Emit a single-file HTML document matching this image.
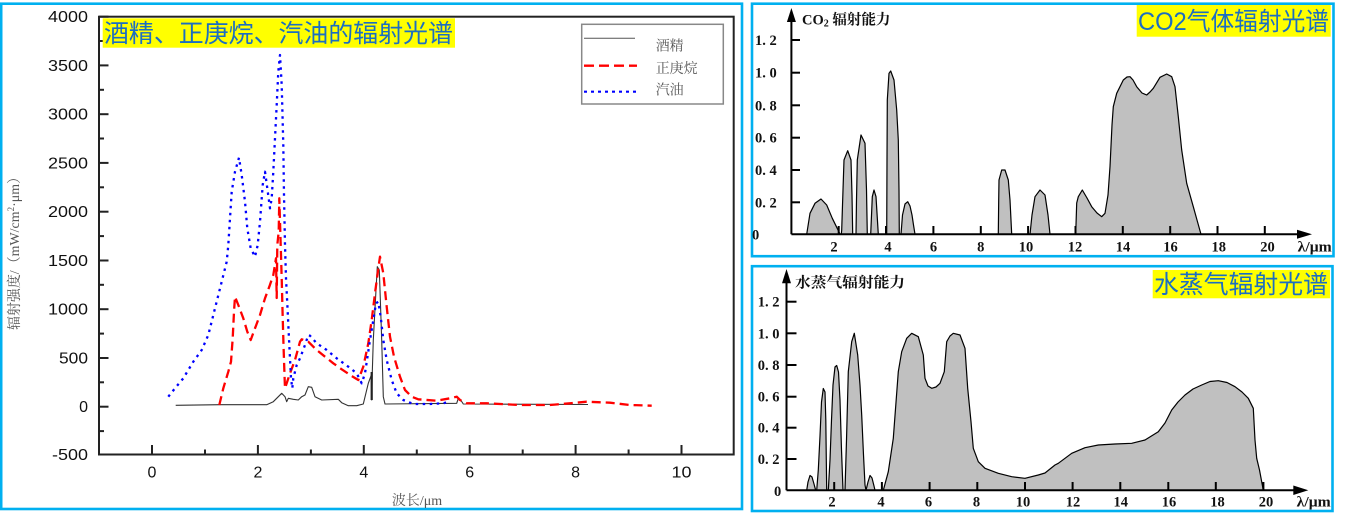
<!DOCTYPE html>
<html><head><meta charset="utf-8"><style>
html,body{margin:0;padding:0;background:#fff;}
svg{display:block;}
.tl{font-family:"Liberation Sans",sans-serif;font-size:16px;fill:#111;}
.cj{font-family:"Liberation Serif","Noto Serif CJK SC",serif;fill:#555;}
.rs{font-family:"Liberation Serif","Noto Serif CJK SC",serif;font-weight:bold;fill:#111;font-size:14.5px;}
.ttl{font-family:"Liberation Sans","Noto Sans CJK SC",sans-serif;fill:#1b6ec2;font-size:25px;}
</style></head><body>
<svg width="1351" height="513" viewBox="0 0 1351 513" xmlns="http://www.w3.org/2000/svg">
<rect width="1351" height="513" fill="#fff"/>
<!-- panel borders -->
<rect x="1.2" y="3.7" width="740.8" height="505.3" fill="none" stroke="#00b0f0" stroke-width="2.6"/>
<rect x="752" y="3.7" width="581.5" height="252.5" fill="none" stroke="#00b0f0" stroke-width="2.6"/>
<rect x="752" y="266.2" width="580.5" height="244.8" fill="none" stroke="#00b0f0" stroke-width="2.6"/>

<!-- ============ LEFT CHART ============ -->
<rect x="99" y="16.7" width="634.7" height="437.8" fill="none" stroke="#222" stroke-width="2"/>
<g stroke="#222" stroke-width="2">
<!-- y major ticks -->
<line x1="99" y1="16.7" x2="108.5" y2="16.7"/><line x1="99" y1="65.4" x2="108.5" y2="65.4"/>
<line x1="99" y1="114.2" x2="108.5" y2="114.2"/><line x1="99" y1="162.9" x2="108.5" y2="162.9"/>
<line x1="99" y1="211.7" x2="108.5" y2="211.7"/><line x1="99" y1="260.5" x2="108.5" y2="260.5"/>
<line x1="99" y1="309.2" x2="108.5" y2="309.2"/><line x1="99" y1="358" x2="108.5" y2="358"/>
<line x1="99" y1="406.7" x2="108.5" y2="406.7"/>
<!-- y minor -->
<line x1="99" y1="41" x2="104" y2="41"/><line x1="99" y1="89.8" x2="104" y2="89.8"/>
<line x1="99" y1="138.5" x2="104" y2="138.5"/><line x1="99" y1="187.3" x2="104" y2="187.3"/>
<line x1="99" y1="236.1" x2="104" y2="236.1"/><line x1="99" y1="284.8" x2="104" y2="284.8"/>
<line x1="99" y1="333.6" x2="104" y2="333.6"/><line x1="99" y1="382.3" x2="104" y2="382.3"/>
<line x1="99" y1="431.1" x2="104" y2="431.1"/>
<!-- x major -->
<line x1="152" y1="454.5" x2="152" y2="445"/><line x1="257.9" y1="454.5" x2="257.9" y2="445"/>
<line x1="363.8" y1="454.5" x2="363.8" y2="445"/><line x1="469.7" y1="454.5" x2="469.7" y2="445"/>
<line x1="575.6" y1="454.5" x2="575.6" y2="445"/><line x1="681.5" y1="454.5" x2="681.5" y2="445"/>
<!-- x minor -->
<line x1="205" y1="454.5" x2="205" y2="449.5"/><line x1="310.9" y1="454.5" x2="310.9" y2="449.5"/>
<line x1="416.8" y1="454.5" x2="416.8" y2="449.5"/><line x1="522.7" y1="454.5" x2="522.7" y2="449.5"/>
<line x1="628.6" y1="454.5" x2="628.6" y2="449.5"/>
</g>
<!-- y tick labels -->
<g class="tl" text-anchor="end">
<text x="88" y="22.2" textLength="40" lengthAdjust="spacingAndGlyphs">4000</text>
<text x="88" y="70.9" textLength="40" lengthAdjust="spacingAndGlyphs">3500</text>
<text x="88" y="119.7" textLength="40" lengthAdjust="spacingAndGlyphs">3000</text>
<text x="88" y="168.4" textLength="40" lengthAdjust="spacingAndGlyphs">2500</text>
<text x="88" y="217.2" textLength="40" lengthAdjust="spacingAndGlyphs">2000</text>
<text x="88" y="266" textLength="40" lengthAdjust="spacingAndGlyphs">1500</text>
<text x="88" y="314.7" textLength="40" lengthAdjust="spacingAndGlyphs">1000</text>
<text x="88" y="363.5" textLength="29" lengthAdjust="spacingAndGlyphs">500</text>
<text x="88" y="412.2">0</text>
<text x="88" y="460" textLength="36" lengthAdjust="spacingAndGlyphs">-500</text>
</g>
<g class="tl" text-anchor="middle">
<text x="152" y="477.7">0</text>
<text x="257.9" y="477.7">2</text>
<text x="363.8" y="477.7">4</text>
<text x="469.7" y="477.7">6</text>
<text x="575.6" y="477.7">8</text>
<text x="681.5" y="477.7" textLength="20" lengthAdjust="spacingAndGlyphs">10</text>
</g>
<text class="cj" x="0" y="0" font-size="14" text-anchor="middle" transform="translate(19,250) rotate(-90)" textLength="160" lengthAdjust="spacingAndGlyphs">辐射强度/（mW/cm<tspan font-size="9" dy="-5">2</tspan><tspan dy="5">·μm）</tspan></text>
<text class="cj" x="417" y="505" font-size="14" text-anchor="middle">波长/μm</text>

<!-- title -->
<rect x="102.7" y="18.3" width="352.3" height="29.4" fill="#ffff00"/>
<text class="ttl" x="104" y="42" textLength="349" lengthAdjust="spacingAndGlyphs">酒精、正庚烷、汽油的辐射光谱</text>

<!-- legend -->
<rect x="581.7" y="24.3" width="141.6" height="79.7" fill="#fff" stroke="#888" stroke-width="1.5"/>
<line x1="584" y1="38.3" x2="635" y2="38.3" stroke="#555" stroke-width="1"/>
<line x1="584" y1="65.7" x2="637" y2="65.7" stroke="#f00" stroke-width="2.3" stroke-dasharray="10,5"/>
<line x1="584" y1="91.7" x2="637" y2="91.7" stroke="#00f" stroke-width="2.2" stroke-dasharray="3,4"/>
<g class="cj" font-size="14" fill="#444">
<text x="655.7" y="50.5">酒精</text>
<text x="655.7" y="73">正庚烷</text>
<text x="655.7" y="94.5">汽油</text>
</g>

<!-- series -->
<polyline fill="none" stroke="#333" stroke-width="1.1" stroke-linejoin="round" points="175.7,405.3 220,404.7 266.7,404.7 273.3,401.7 281.7,393.3 285,396.7 286.7,401.7 288.3,398.3 293.3,399.3 298.3,400 301.7,396.7 305,395 308.3,386.7 311.7,387.3 315,396.7 321.7,400 338.3,399.3 341.7,402.7 348.3,405.7 356.7,405.7 363.3,404 368.3,383.3 371.3,375 371.7,400 372.2,375 373.3,340 376,290 377.3,266.7 379.3,270 380,290 381.7,340 383.3,396.7 385,404 456.7,403.3 458.3,398.3 460.7,400 463.3,404 588,404.5"/>
<line x1="371.7" y1="372" x2="371.7" y2="400" stroke="#222" stroke-width="2.2"/>
<polyline fill="none" stroke="#f00" stroke-width="2.3" stroke-dasharray="9,5" stroke-linejoin="round" points="219.3,405 223.3,388.3 228.3,371.7 231,361.7 232.7,338.3 234,311.7 235,296.7 238.3,305 243.3,318.3 247.3,331.7 250.7,340 255,328.3 260,315 265,298.3 269.3,286.7 273.3,275 276,258.3 276.7,298 277.3,245 278.7,231.7 279.3,198.3 280.7,245 281.7,278.3 282.5,310 283.5,345 284.5,375 285,388.3 290,373.3 295,360 300,341.7 301.7,339.3 308.3,341.7 316.7,350 325,356.7 333.3,363.3 341.7,369.3 351.7,376 358.3,380 363.3,366.7 368.3,343.3 371.7,320 375,293.3 378.3,268.3 380,256.7 383.3,273.3 386.7,306.7 390,336.7 394,356.7 400,376.7 405,390 411.7,396.7 418.3,399.3 436.7,400.7 450,398.3 456.7,396.7 460,400 466.7,403.3 486.7,403.3 520,405 550,405 570,403.3 586.7,401.7 610,402.7 630,405 651.7,405.7"/>
<polyline fill="none" stroke="#00f" stroke-width="2.3" stroke-dasharray="2.5,4.5" stroke-linejoin="round" points="168.3,396.7 175,388.3 183.3,378.3 193.3,361.7 201.7,350 208.3,335 215,308.3 221.7,281.7 226.7,261.7 228.3,245 230,218.3 231.7,191.7 235,171.7 239,157.7 241.7,175 245,201.7 247.3,228.3 250.7,248.3 255,256.7 257.7,245 260,221.7 262.7,185 265,171.7 267.3,188.3 270,208.3 271.7,198.3 273.3,171.7 275,138.3 276.7,105 278.3,71.7 280,55 281.7,85 283.3,145 284,195 285,245 286,278.3 287.7,311.7 289.3,345 291,378.3 292.3,388.3 293.3,378.3 296.7,365 300,358.3 305,345 308.3,335 310,335.7 316.7,343.3 326.7,350 336.7,358.3 348.3,366.7 356.7,373.3 361.7,383.3 365,373.3 370,340 373.3,320 376,303.3 378.3,301.7 380.7,316.7 383.3,340 386.7,360 391.7,380 396.7,393.3 403.3,400 413.3,404 430,404 443.3,403.3 448,402"/>

<!-- ============ CO2 CHART ============ -->
<g fill="#c0c0c0" stroke="#000" stroke-width="1.2" stroke-linejoin="round">
<polygon points="806.7,234.3 810,213.3 815,203.3 821,199 826.7,205 832.3,218.3 837.7,229.3 840,234.3"/>
<polygon points="841.3,234.3 841.7,230 843,190 844,160 847.7,150.7 851,160 852,195 852.7,234.3"/>
<polygon points="856,234.3 856.5,200 857.3,160 861,135 865,143.3 866.5,190 867.3,234.3"/>
<polygon points="870.7,234.3 872.3,196.7 874,190 876,196.7 878.3,234.3"/>
<polygon points="886.7,234.3 887,160 887.3,100 889,73.3 890.7,71 894,80 896.7,110 898.3,140 899,190 899.3,234.3"/>
<polygon points="901,234.3 902.5,215 905,204 907.7,201.7 910,206 912,215 913.5,225 915,234.3"/>
<polygon points="998.3,234.3 998.7,200 999,180 1001.7,170 1005,170 1008.3,180 1010,200 1011.7,234.3"/>
<polygon points="1030,234.3 1032,215 1035,196.7 1040,190 1045,195 1048,215 1050,234.3"/>
<polygon points="1075.7,234.3 1076.7,203 1078.3,196.7 1082.3,190 1087,198 1091.7,206.7 1097,213 1101.7,216.7 1105,213.3 1108,195 1110,166.7 1112,125 1113.3,106.7 1116.7,93.3 1123.3,80 1127,77 1130,76.7 1133,80 1136.7,86.7 1142,93 1146.7,95 1150,92 1153.3,88.3 1160,77.3 1166.7,74 1171.7,76.7 1175,86.7 1178.3,116.7 1181.7,150 1186.7,183.3 1193.3,206.7 1197,220 1201,234.3"/>
</g>
<g stroke="#000" stroke-width="2">
<line x1="791.4" y1="234.3" x2="791.4" y2="18"/>
<line x1="791.4" y1="234.3" x2="1300" y2="234.3"/>
<line x1="791.4" y1="40" x2="800" y2="40"/><line x1="791.4" y1="72.7" x2="800" y2="72.7"/>
<line x1="791.4" y1="105.3" x2="800" y2="105.3"/><line x1="791.4" y1="137.7" x2="800" y2="137.7"/>
<line x1="791.4" y1="170" x2="800" y2="170"/><line x1="791.4" y1="202.3" x2="800" y2="202.3"/>
<line x1="838.7" y1="234.3" x2="838.7" y2="226"/><line x1="886" y1="234.3" x2="886" y2="226"/>
<line x1="933.4" y1="234.3" x2="933.4" y2="226"/><line x1="980.8" y1="234.3" x2="980.8" y2="226"/>
<line x1="1028.1" y1="234.3" x2="1028.1" y2="226"/><line x1="1075.5" y1="234.3" x2="1075.5" y2="226"/>
<line x1="1122.8" y1="234.3" x2="1122.8" y2="226"/><line x1="1170.2" y1="234.3" x2="1170.2" y2="226"/>
<line x1="1217.5" y1="234.3" x2="1217.5" y2="226"/><line x1="1264.8" y1="234.3" x2="1264.8" y2="226"/>
</g>
<polygon points="791.4,8 786.9,22 795.9,22" fill="#000"/>
<polygon points="1312,234.3 1297,229.8 1297,238.8" fill="#000"/>
<g class="rs">
<text x="755" y="45">1. 2</text><text x="755" y="77.7">1. 0</text>
<text x="755" y="110.3">0. 8</text><text x="755" y="142.7">0. 6</text>
<text x="755" y="175">0. 4</text><text x="755" y="207.3">0. 2</text>
<text x="752" y="239.3">0</text>
</g>
<g class="rs" text-anchor="middle">
<text x="834" y="251.5">2</text><text x="888" y="251.5">4</text><text x="933.5" y="251.5">6</text>
<text x="980.8" y="251.5">8</text><text x="1026" y="251.5">10</text><text x="1075" y="251.5">12</text>
<text x="1123" y="251.5">14</text><text x="1170.5" y="251.5">16</text><text x="1218.7" y="251.5">18</text>
<text x="1267.5" y="251.5">20</text>
</g>
<text class="rs" x="1297.7" y="251.5" textLength="34" lengthAdjust="spacingAndGlyphs">λ/μm</text>
<text class="rs" x="802" y="24.5" font-size="15.5">CO<tspan font-size="10" dy="2">2</tspan><tspan dy="-2"> 辐射能力</tspan></text>
<rect x="1136.7" y="5" width="194" height="31.7" fill="#ffff00"/>
<text class="ttl" x="1138" y="30" font-size="24" textLength="191" lengthAdjust="spacingAndGlyphs">CO2气体辐射光谱</text>

<!-- ============ H2O CHART ============ -->
<g fill="#c0c0c0" stroke="#000" stroke-width="1.2" stroke-linejoin="round">
<polygon points="806.7,490.3 808,482 810,475.5 812,477 814,484 815.7,490.3"/>
<polygon points="816.7,490.3 818.3,470 820,436 821.5,402 823.3,388.5 825,392 825.8,420 826.3,460 826.7,490.3"/>
<polygon points="828.3,490.3 830,460 831.5,420 833,385 835,367 836.7,365.5 838.5,372 840,400 841.5,450 843,490.3"/>
<polygon points="845,490.3 846.5,440 848.3,371.7 851.7,341.7 854.3,333.3 857.7,355 860,385 861.7,415 863.5,455 865,485 866,490.3"/>
<polygon points="866,490.3 868,482 870,475.5 872,478 874,486 875,490.3"/>
<polygon points="883.3,490.3 888.3,471.7 893.3,438.3 898.3,371.7 901.7,351.7 906.7,338.3 911.7,333.3 918.3,336.7 923.3,355 925,378.3 928,386 931.7,388.3 936,387 940,383.3 944.3,371.7 946.7,341.7 950,336 953.3,333.3 960,335 965,348.3 967.7,388.3 971,421.7 973.3,448.3 978.3,461.7 985,468.3 998.3,473.3 1011.7,476.7 1025,478.3 1038.3,475 1045,473 1055,465 1058.3,463.3 1071.7,453.3 1085,447.7 1098.3,445 1115,444 1131.7,443.3 1145,440 1158.3,431.7 1165,423 1171.7,410 1178,402 1185,395 1193,389 1201.7,385 1210,381.5 1218.3,380.7 1227,382.5 1235,386.7 1242,392 1248.3,398.3 1253.3,408.3 1255,440 1256.7,458.3 1259.5,470 1263.3,490.3"/>
</g>
<g stroke="#000" stroke-width="2">
<line x1="786.5" y1="490.3" x2="786.5" y2="280"/>
<line x1="786.5" y1="490.3" x2="1296" y2="490.3"/>
<line x1="786.5" y1="301.7" x2="796.5" y2="301.7"/><line x1="786.5" y1="333.3" x2="796.5" y2="333.3"/>
<line x1="786.5" y1="365" x2="796.5" y2="365"/><line x1="786.5" y1="396.7" x2="796.5" y2="396.7"/>
<line x1="786.5" y1="427.7" x2="796.5" y2="427.7"/><line x1="786.5" y1="459" x2="796.5" y2="459"/>
<line x1="834.2" y1="490.3" x2="834.2" y2="482"/><line x1="881.9" y1="490.3" x2="881.9" y2="482"/>
<line x1="929.6" y1="490.3" x2="929.6" y2="482"/><line x1="977.3" y1="490.3" x2="977.3" y2="482"/>
<line x1="1025" y1="490.3" x2="1025" y2="482"/><line x1="1072.6" y1="490.3" x2="1072.6" y2="482"/>
<line x1="1120.3" y1="490.3" x2="1120.3" y2="482"/><line x1="1168.3" y1="490.3" x2="1168.3" y2="482"/>
<line x1="1215.8" y1="490.3" x2="1215.8" y2="482"/><line x1="1263.4" y1="490.3" x2="1263.4" y2="482"/>
</g>
<polygon points="786.5,269 782,283.3 791,283.3" fill="#000"/>
<polygon points="1308.3,490.3 1293.3,485.5 1293.3,495" fill="#000"/>
<g class="rs">
<text x="757.7" y="306.7">1. 2</text><text x="757.7" y="338.3">1. 0</text>
<text x="757.7" y="370">0. 8</text><text x="757.7" y="401.7">0. 6</text>
<text x="757.7" y="432.7">0. 4</text><text x="757.7" y="464">0. 2</text>
<text x="774" y="496">0</text>
</g>
<g class="rs" text-anchor="middle">
<text x="832" y="506.5">2</text><text x="881" y="506.5">4</text><text x="928.5" y="506.5">6</text>
<text x="976.5" y="506.5">8</text><text x="1023" y="506.5">10</text><text x="1073" y="506.5">12</text>
<text x="1120.8" y="506.5">14</text><text x="1169" y="506.5">16</text><text x="1217.5" y="506.5">18</text>
<text x="1266" y="506.5">20</text>
</g>
<text class="rs" x="1296.7" y="506.5" textLength="34" lengthAdjust="spacingAndGlyphs">λ/μm</text>
<text class="rs" x="795" y="287.5" font-size="15.5" textLength="110" lengthAdjust="spacingAndGlyphs">水蒸气辐射能力</text>
<rect x="1152.7" y="270" width="177.3" height="28.3" fill="#ffff00"/>
<text class="ttl" x="1154" y="293" textLength="174" lengthAdjust="spacingAndGlyphs">水蒸气辐射光谱</text>
</svg>
</body></html>
